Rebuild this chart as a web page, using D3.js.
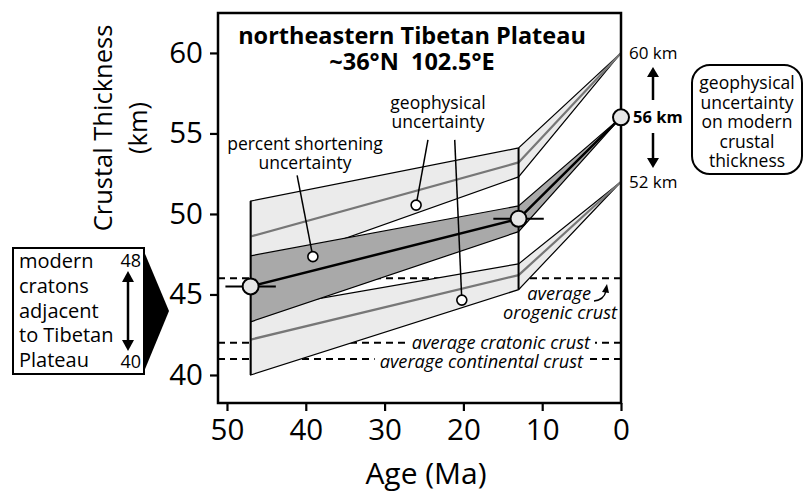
<!DOCTYPE html>
<html>
<head>
<meta charset="utf-8">
<script src="https://cdn.jsdelivr.net/npm/d3@7"></script>
<style>
  body { margin: 0; background: #fff; }
  text { font-family: "Open Sans", sans-serif; fill: #000; }
</style>
</head>
<body>
<script>
// General constants
const WIDTH = 804;
const HEIGHT = 492;

// Ages (Ma) where the reconstruction is anchored
const ages = [47, 13, 0];

// Central estimate, modern thickness 56 km (dark band = percent shortening uncertainty)
const centralMid = [45.5, 49.7, 56];
const centralTop = [47.4, 50.5, 56];
const centralBot = [43.3, 48.9, 56];

// Modern thickness 60 km scenario
const upperMid = [48.6, 53.2, 60];
const upperTop = [50.8, 54.1, 60];
const upperBot = [46.4, 52.3, 60];

// Modern thickness 52 km scenario
const lowerMid = [42.2, 46.2, 52];
const lowerTop = [44.0, 46.9, 52];
const lowerBot = [40.0, 45.3, 52];

// Data points with age uncertainty
const pointAges = [47, 13, 0];
const pointThick = [45.5, 49.7, 56];
const ageErr = [3.2, 3.2, 0];

// Reference crustal thickness levels
const refNames = ["orogenic", "cratonic", "continental"];
const refLevels = [46, 42, 41];

// Axis ticks
const xTicks = [50, 40, 30, 20, 10, 0];
const yTicks = [40, 45, 50, 55, 60];

// Leader lines: [age at label, km at label, age at circle, km at circle]
const leaders = [
  [41.1, 52.4, 39.1, 47.35],
  [24.5, 54.6, 26.0, 50.55],
  [21.1, 54.6, 20.2, 44.65]
];

/**
 * Scales and container
 */
const x = d3.scaleLinear().domain([51.14, 0]).range([218, 621]);
const y = d3.scaleLinear().domain([38.26, 62.48]).range([403, 13]);

const svg = d3.select("body")
              .append("svg")
              .attr("width", WIDTH)
              .attr("height", HEIGHT);

// dashed reference lines sit underneath the bands
svg.selectAll("line.ref")
   .data(refLevels)
   .enter()
   .append("line")
   .attr("class", "ref")
   .attr("x1", x.range()[0])
   .attr("x2", x.range()[1])
   .attr("y1", d => y(d))
   .attr("y2", d => y(d))
   .attr("stroke", "#000")
   .attr("stroke-width", 2)
   .attr("stroke-dasharray", "7,5");

const area = (top, bot) => d3.area()
    .x((d, i) => x(ages[i]))
    .y0((d, i) => y(bot[i]))
    .y1((d, i) => y(top[i]))(ages);

const line = vals => d3.line()
    .x((d, i) => x(ages[i]))
    .y((d, i) => y(vals[i]))(ages);

// light bands (geophysical uncertainty)
[[upperTop, upperBot], [lowerTop, lowerBot]].forEach(([t, b]) => {
    svg.append("path")
       .attr("d", area(t, b))
       .attr("fill", "#ebebeb")
       .attr("stroke", "#000")
       .attr("stroke-width", 1.2);
});
[upperMid, lowerMid].forEach(m => {
    svg.append("path")
       .attr("d", line(m))
       .attr("fill", "none")
       .attr("stroke", "#777")
       .attr("stroke-width", 2.2);
});

// dark band (percent shortening uncertainty)
svg.append("path")
   .attr("d", area(centralTop, centralBot))
   .attr("fill", "#a9a9a9")
   .attr("stroke", "#000")
   .attr("stroke-width", 1.2);
svg.append("path")
   .attr("d", line(centralMid))
   .attr("fill", "none")
   .attr("stroke", "#000")
   .attr("stroke-width", 2.5);

// vertical edges at 47 and 13 Ma
[0, 1].forEach(i => {
    svg.append("line")
       .attr("x1", x(ages[i])).attr("x2", x(ages[i]))
       .attr("y1", y(upperTop[i])).attr("y2", y(lowerBot[i]))
       .attr("stroke", "#000")
       .attr("stroke-width", 2);
});

// label backgrounds for reference lines + labels
const ITAL = 18.2;
function maskedLabel(txt, xe, yb) {
    const g = svg.append("g");
    const bg = g.append("rect").attr("fill", "#fff");
    const t = g.append("text")
               .attr("x", xe).attr("y", yb)
               .attr("text-anchor", "end")
               .attr("font-size", ITAL)
               .attr("font-style", "italic")
               .text(txt);
    const bb = t.node().getBBox();
    bg.attr("x", bb.x - 5).attr("y", bb.y + 5)
      .attr("width", bb.width + 9).attr("height", bb.height - 8);
}
maskedLabel("average cratonic crust", 590, 349);
maskedLabel("average continental crust", 583, 368);

// multi-line text block as one <text> with tspans
function block(arr, xc, y0, dy, size, anchor, weight, style) {
    const xs = Array.isArray(xc) ? xc : arr.map(() => xc);
    const t = svg.append("text")
       .attr("x", xs[0]).attr("y", y0)
       .attr("text-anchor", anchor || "middle")
       .attr("font-size", size)
       .attr("font-weight", weight || "normal")
       .attr("font-style", style || "normal");
    arr.forEach((s, i) => {
        t.append("tspan")
         .attr("x", xs[i])
         .attr("dy", i === 0 ? 0 : dy)
         .text(s);
    });
    return t;
}

block(["average", "orogenic crust"], [591, 617], 300, 19, ITAL, "end", "normal", "italic");
svg.append("path")
   .attr("d", "M594,301 Q604,300 606,291")
   .attr("fill", "none").attr("stroke", "#000").attr("stroke-width", 1.3);
svg.append("path")
   .attr("d", "M602,292 L607,284 L609,293 Z")
   .attr("fill", "#000");

// error bars and data circles
svg.selectAll("line.err")
   .data(pointAges)
   .enter()
   .append("line")
   .attr("class", "err")
   .attr("x1", (d, i) => x(d + ageErr[i]))
   .attr("x2", (d, i) => x(d - ageErr[i]))
   .attr("y1", (d, i) => y(pointThick[i]))
   .attr("y2", (d, i) => y(pointThick[i]))
   .attr("stroke", "#000")
   .attr("stroke-width", 2);

// plot frame
svg.append("rect")
   .attr("x", x.range()[0]).attr("y", y.range()[1])
   .attr("width", x.range()[1] - x.range()[0])
   .attr("height", y.range()[0] - y.range()[1])
   .attr("fill", "none")
   .attr("stroke", "#000")
   .attr("stroke-width", 2.5);

svg.selectAll("circle.pt")
   .data(pointAges)
   .enter()
   .append("circle")
   .attr("class", "pt")
   .attr("cx", d => x(d))
   .attr("cy", (d, i) => y(pointThick[i]))
   .attr("r", 8)
   .attr("fill", "#e6e6e6")
   .attr("stroke", "#000")
   .attr("stroke-width", 2);

// leader lines to annotation labels
leaders.forEach(l => {
    svg.append("line")
       .attr("x1", x(l[0])).attr("y1", y(l[1]))
       .attr("x2", x(l[2])).attr("y2", y(l[3]))
       .attr("stroke", "#000").attr("stroke-width", 1.5);
    svg.append("circle")
       .attr("cx", x(l[2])).attr("cy", y(l[3]))
       .attr("r", 5)
       .attr("fill", "#fff").attr("stroke", "#000").attr("stroke-width", 1.6);
});

block(["percent shortening", "uncertainty"], 305, 150, 18.5, 17.5);
block(["geophysical", "uncertainty"], 438, 109, 18.5, 17.5);
block(["northeastern Tibetan Plateau", "~36°N\u00a0\u00a0102.5°E"], 412, 44, 26, 23.5, "middle", "bold");

// axes
const xAxis = svg.append("g")
   .attr("transform", `translate(0,${y.range()[0]})`)
   .call(d3.axisBottom(x).tickValues(xTicks).tickSize(8).tickPadding(8).tickFormat(d3.format("d")));
const yAxis = svg.append("g")
   .attr("transform", `translate(${x.range()[0]},0)`)
   .call(d3.axisLeft(y).tickValues(yTicks).tickSize(8).tickPadding(7));
[xAxis, yAxis].forEach(g => {
    g.select(".domain").remove();
    g.selectAll(".tick line").attr("stroke-width", 2.2);
    g.selectAll(".tick text")
     .attr("font-family", "'Open Sans', sans-serif")
     .attr("font-size", 29.5);
});

svg.append("text")
   .attr("x", 426).attr("y", 484)
   .attr("text-anchor", "middle")
   .attr("font-size", 30)
   .text("Age (Ma)");
svg.append("text")
   .attr("transform", "translate(112,128) rotate(-90)")
   .attr("text-anchor", "middle")
   .attr("font-size", 25.5)
   .text("Crustal Thickness");
svg.append("text")
   .attr("transform", "translate(147,128) rotate(-90)")
   .attr("text-anchor", "middle")
   .attr("font-size", 25.5)
   .text("(km)");

// modern thickness labels to the right
svg.append("text").attr("x", 629).attr("y", y(60) + 6).attr("font-size", 17).text("60 km");
svg.append("text").attr("x", 633).attr("y", y(56) + 6).attr("font-size", 16.5)
   .attr("font-weight", "bold").text("56 km");
svg.append("text").attr("x", 629).attr("y", y(52) + 6).attr("font-size", 17).text("52 km");

function arrowV(xc, yFrom, yTo, head) {
    const dir = Math.sign(yTo - yFrom);
    svg.append("line")
       .attr("x1", xc).attr("x2", xc)
       .attr("y1", yFrom).attr("y2", yTo - dir * head)
       .attr("stroke", "#000").attr("stroke-width", 2.5);
    svg.append("path")
       .attr("d", `M${xc - 6},${yTo - dir * head} L${xc},${yTo} L${xc + 6},${yTo - dir * head} Z`)
       .attr("fill", "#000");
}
arrowV(653, 100, 67, 10);
arrowV(653, 133, 168, 10);

svg.append("rect")
   .attr("x", 692).attr("y", 65).attr("width", 110).attr("height", 109)
   .attr("rx", 18)
   .attr("fill", "#fff").attr("stroke", "#000").attr("stroke-width", 2);
block(["geophysical", "uncertainty", "on modern", "crustal", "thickness"], 747, 89, 19.6, 17.5);

// left box: modern cratons
svg.append("path")
   .attr("d", "M143,249 L169,311 L143,374 Z")
   .attr("fill", "#000");
svg.append("rect")
   .attr("x", 13).attr("y", 248).attr("width", 131).attr("height", 126)
   .attr("fill", "#fff").attr("stroke", "#000").attr("stroke-width", 2);
block(["modern", "cratons", "adjacent", "to Tibetan", "Plateau"], 19, 268, 24.8, 20, "start");
svg.append("text").attr("x", 141).attr("y", 267).attr("text-anchor", "end")
   .attr("font-size", 18).text("48");
svg.append("text").attr("x", 141).attr("y", 368).attr("text-anchor", "end")
   .attr("font-size", 18).text("40");
arrowV(128, 310, 271, 11);
arrowV(128, 310, 351, 11);
</script>
</body>
</html>
